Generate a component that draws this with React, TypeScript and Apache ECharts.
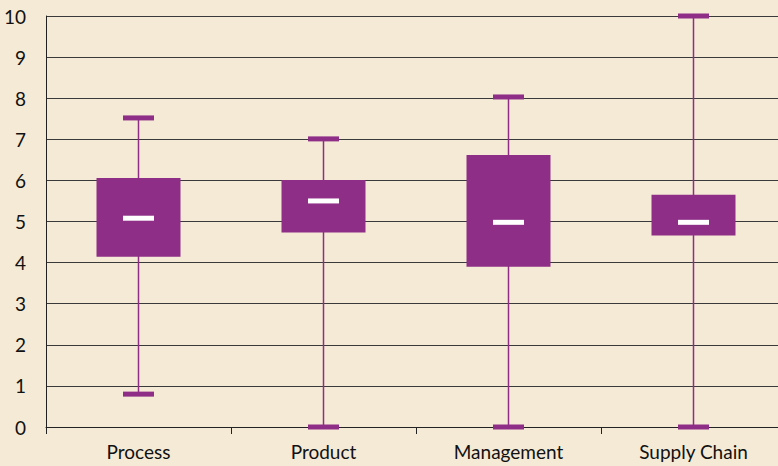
import React, { useEffect, useRef } from "react";
import * as echarts from "echarts";

const categories = ["Process", "Product", "Management", "Supply Chain"];
const minValues = [0.8, 0, 0, 0];
const q1Values = [4.14, 4.73, 3.9, 4.66];
const medianValues = [5.08, 5.5, 4.98, 4.98];
const q3Values = [6.06, 6.01, 6.62, 5.65];
const maxValues = [7.52, 7.01, 8.03, 10];

const PURPLE = "#8E2E87";
const BG = "#F5EAD5";
const FONT = "Lato, 'Open Sans', sans-serif";

export default function App() {
  const ref = useRef<HTMLDivElement>(null);
  useEffect(() => {
    if (!ref.current) return;
    document.documentElement.style.overflow = "hidden";
    document.body.style.overflow = "hidden";
    document.body.style.background = BG;
    const chart = echarts.init(ref.current, null, { renderer: "svg" });
    const data = categories.map((_, i) => [
      i,
      minValues[i],
      q1Values[i],
      medianValues[i],
      q3Values[i],
      maxValues[i],
    ]);
    chart.setOption({
      animation: false,
      backgroundColor: BG,
      grid: { left: 46, right: 14, top: 16, bottom: 39 },
      xAxis: {
        type: "category",
        data: categories,
        boundaryGap: true,
        axisLine: { show: true, lineStyle: { color: "#222", width: 1 } },
        axisTick: { show: true, length: 7, lineStyle: { color: "#222", width: 1 } },
        axisLabel: { color: "#111", fontSize: 19, fontFamily: FONT, margin: 15 },
        splitLine: { show: false },
      },
      yAxis: {
        type: "value",
        min: 0,
        max: 10,
        interval: 1,
        axisLine: { show: true, lineStyle: { color: "#222", width: 1 } },
        axisTick: { show: false },
        axisLabel: { color: "#111", fontSize: 19, fontFamily: FONT, margin: 20 },
        splitLine: { show: true, lineStyle: { color: "#3a3a3a", width: 1 } },
      },
      series: [
        {
          type: "custom",
          clip: false,
          data,
          encode: { x: 0, y: [1, 2, 3, 4, 5] },
          renderItem: (params: any, api: any) => {
            const i = api.value(0);
            const pMin = api.coord([i, api.value(1)]);
            const pQ1 = api.coord([i, api.value(2)]);
            const pMed = api.coord([i, api.value(3)]);
            const pQ3 = api.coord([i, api.value(4)]);
            const pMax = api.coord([i, api.value(5)]);
            const x = pMin[0];
            const boxW = 84;
            const capW = 31;
            const capH = 5;
            return {
              type: "group",
              children: [
                {
                  type: "line",
                  shape: { x1: x, y1: pMin[1], x2: x, y2: pMax[1] },
                  style: { stroke: PURPLE, lineWidth: 1.5 },
                },
                {
                  type: "rect",
                  shape: { x: x - boxW / 2, y: pQ3[1], width: boxW, height: pQ1[1] - pQ3[1] },
                  style: { fill: PURPLE },
                },
                {
                  type: "rect",
                  shape: { x: x - capW / 2, y: pMax[1] - capH / 2, width: capW, height: capH },
                  style: { fill: PURPLE },
                },
                {
                  type: "rect",
                  shape: { x: x - capW / 2, y: pMin[1] - capH / 2, width: capW, height: capH },
                  style: { fill: PURPLE },
                },
                {
                  type: "rect",
                  shape: { x: x - capW / 2, y: pMed[1] - capH / 2, width: capW, height: capH },
                  style: { fill: "#FFFFFF" },
                },
              ],
            };
          },
        },
      ],
    });
    return () => chart.dispose();
  }, []);
  return (
    <div
      ref={ref}
      style={{ position: "absolute", left: 0, top: 0, width: 800, height: 466 }}
    />
  );
}
